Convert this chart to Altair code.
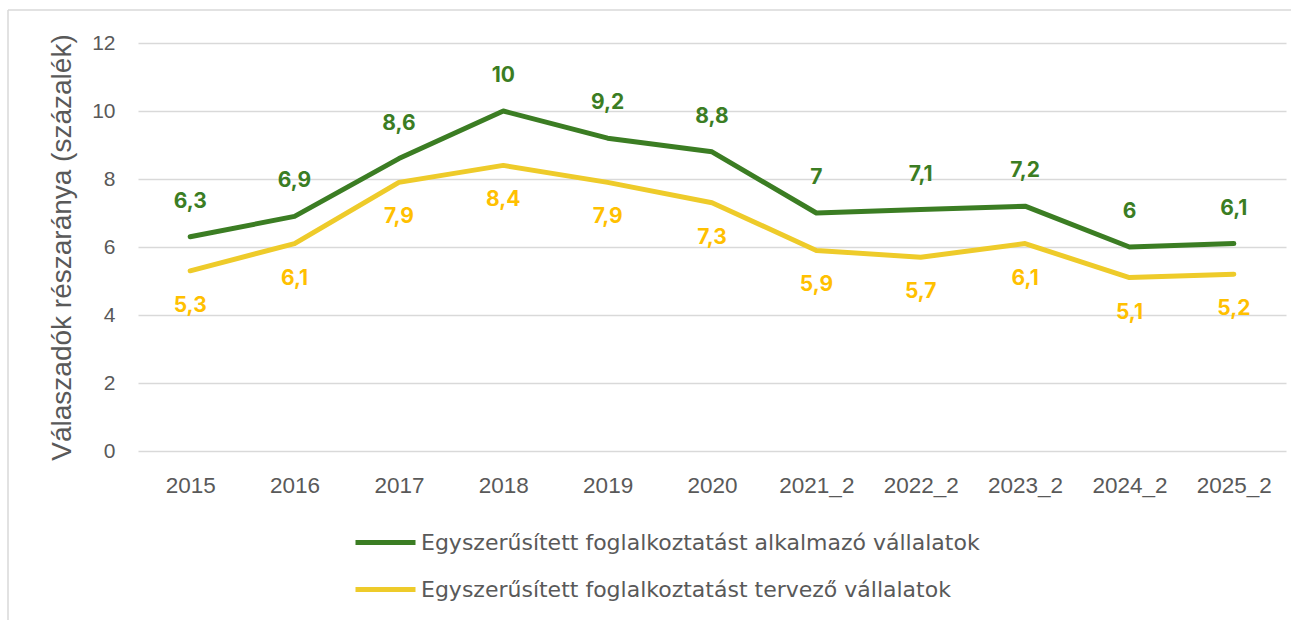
import altair as alt
import pandas as pd

categories = ["2015", "2016", "2017", "2018", "2019", "2020",
              "2021_2", "2022_2", "2023_2", "2024_2", "2025_2"]
applied = [6.3, 6.9, 8.6, 10, 9.2, 8.8, 7, 7.1, 7.2, 6, 6.1]
planned = [5.3, 6.1, 7.9, 8.4, 7.9, 7.3, 5.9, 5.7, 6.1, 5.1, 5.2]
series_names = ["Egyszerűsített foglalkoztatást alkalmazó vállalatok",
                "Egyszerűsített foglalkoztatást tervező vállalatok"]
line_colors = ["#3B7D23", "#EECB2A"]
label_colors = ["#3B7D23", "#FFC000"]
y_ticks = [0, 2, 4, 6, 8, 10, 12]


def fmt(v):
    s = ("%g" % v)
    return s.replace(".", ",")


rows = []
for c, a, p in zip(categories, applied, planned):
    rows.append({"cat": c, "value": a, "series": series_names[0], "label": fmt(a)})
    rows.append({"cat": c, "value": p, "series": series_names[1], "label": fmt(p)})
df = pd.DataFrame(rows)

W, H = 1148, 408
LEFT, TOP = 138, 43

x_enc = alt.X("cat:N", sort=categories,
              scale=alt.Scale(type="point", padding=0.5),
              axis=alt.Axis(title=None, labelAngle=0, ticks=False, domain=False,
                            grid=False, labelFontSize=22.5, labelColor="#595959",
                            labelFont="Liberation Sans", labelPadding=23))
y_enc = alt.Y("value:Q", scale=alt.Scale(domain=[0, 12], nice=False),
              axis=alt.Axis(title="Válaszadók részaránya (százalék)", values=y_ticks,
                            ticks=False, domain=False, grid=True,
                            gridColor="#D9D9D9", gridWidth=1.5,
                            labelFontSize=21, labelColor="#595959",
                            labelFont="Liberation Sans", labelPadding=23,
                            titleFontSize=28, titleColor="#595959",
                            titleFont="Liberation Sans", titleFontWeight="normal",
                            titlePadding=15))

color_scale = alt.Scale(domain=series_names, range=line_colors)

lines = alt.Chart(df).mark_line(strokeWidth=5, strokeCap="round", strokeJoin="round").encode(
    x=x_enc, y=y_enc,
    color=alt.Color("series:N", scale=color_scale,
                    legend=alt.Legend(title=None, orient="none", direction="vertical",
                                      legendX=215, legendY=467,
                                      symbolType="stroke", symbolSize=3600,
                                      symbolStrokeWidth=5, labelOffset=3,
                                      rowPadding=3, padding=0,
                                      labelFontSize=22, labelColor="#595959",
                                      labelFont="DejaVu Sans",
                                      labelLimit=0)),
)

lab_top = alt.Chart(df[df["series"] == series_names[0]]).mark_text(
    dy=-35, fontSize=21, fontWeight="bold", font="Inter", color=label_colors[0],
    baseline="middle").encode(x=alt.X("cat:N", sort=categories), y="value:Q", text="label:N")

lab_bot = alt.Chart(df[df["series"] == series_names[1]]).mark_text(
    dy=35, fontSize=21, fontWeight="bold", font="Inter", color=label_colors[1],
    baseline="middle").encode(x=alt.X("cat:N", sort=categories), y="value:Q", text="label:N")

frame_df = pd.DataFrame({"k": [0]})
left_border = alt.Chart(frame_df).mark_rule(color="#D9D9D9", strokeWidth=1.5).encode(
    x=alt.value(-130), y=alt.value(-33), y2=alt.value(620 - TOP))
top_border = alt.Chart(frame_df).mark_rule(color="#D9D9D9", strokeWidth=1.5).encode(
    x=alt.value(-130), x2=alt.value(1291 - LEFT), y=alt.value(-33))

chart = alt.layer(left_border, top_border, lines, lab_top, lab_bot).properties(
    width=W, height=H,
    autosize=alt.AutoSizeParams(type="none"),
    padding={"left": LEFT, "top": TOP, "right": 1291 - LEFT - W, "bottom": 620 - TOP - H},
    background="white",
).configure_view(stroke=None)

chart.save("out.html", embed_options={"renderer": "svg", "actions": False})
